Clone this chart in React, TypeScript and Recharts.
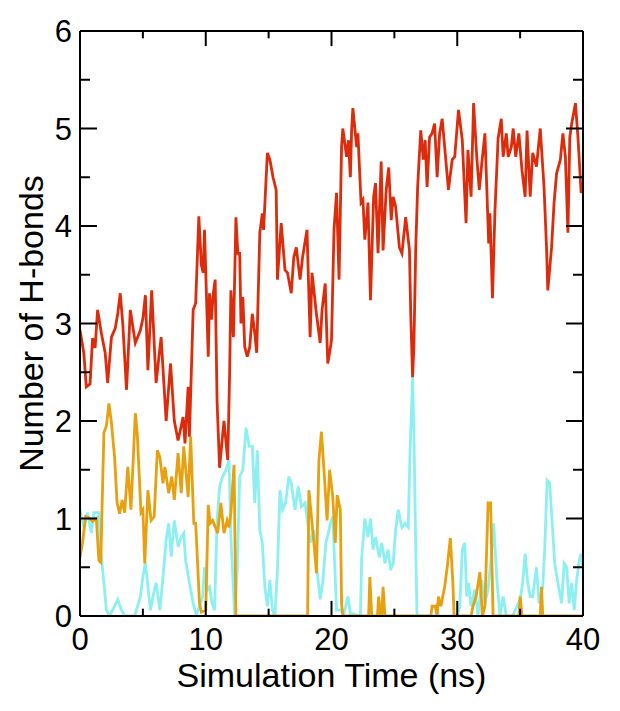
import React from 'react'
import { LineChart, Line, XAxis, YAxis, ReferenceLine } from 'recharts'

// [time (ns), number of H-bonds]
const red: [number, number][] = [
  [0, 2.93], [0.3, 2.7], [0.5, 2.35], [0.8, 2.38], [1.0, 2.85], [1.2, 2.75], [1.4, 3.14], [1.7, 2.9],
  [2.0, 2.7], [2.2, 2.39], [2.5, 2.86], [2.8, 2.95], [3.0, 3.1], [3.2, 3.31], [3.4, 3.0], [3.7, 2.32],
  [4.0, 3.14], [4.4, 2.8], [4.8, 2.93], [5.0, 3.05], [5.2, 3.29], [5.4, 2.52], [5.7, 3.34], [6.05, 2.39],
  [6.45, 2.86], [6.85, 2.0], [7.2, 2.59], [7.5, 2.0], [7.8, 1.8], [8.2, 2.04], [8.35, 1.77], [8.6, 2.35],
  [8.7, 1.84], [9.0, 3.14], [9.2, 3.21], [9.45, 4.1], [9.65, 3.6], [9.8, 3.52], [9.9, 3.96], [10.2, 2.66],
  [10.3, 3.31], [10.45, 3.04], [10.6, 3.31], [10.75, 3.45], [10.9, 2.2], [11.1, 1.52], [11.3, 1.8],
  [11.45, 2.0], [11.6, 1.8], [11.75, 1.6], [11.9, 2.5], [12.0, 3.34], [12.2, 2.86], [12.4, 4.09],
  [12.55, 3.72], [12.7, 3.72], [12.8, 3.0], [12.95, 3.27], [13.1, 2.76], [13.3, 2.66], [13.5, 2.76],
  [13.7, 3.1], [13.9, 2.9], [14.05, 2.7], [14.3, 3.93], [14.5, 4.13], [14.6, 3.96], [14.9, 4.75],
  [15.1, 4.68], [15.35, 4.5], [15.6, 4.37], [15.7, 3.45], [16.0, 4.03], [16.3, 3.55], [16.5, 3.52],
  [16.8, 3.31], [17.0, 3.68], [17.2, 3.78], [17.5, 3.45], [17.7, 3.68], [18.05, 3.96], [18.3, 2.86],
  [18.45, 3.52], [18.8, 3.1], [19.1, 2.8], [19.25, 3.14], [19.5, 3.41], [19.7, 2.59], [19.85, 2.7],
  [20.0, 2.83], [20.2, 3.96], [20.4, 4.34], [20.6, 3.45], [20.8, 4.81], [20.9, 5.0], [21.2, 4.71],
  [21.35, 4.88], [21.5, 4.5], [21.6, 4.98], [21.7, 5.21], [22.0, 4.81], [22.1, 4.95], [22.35, 4.24],
  [22.5, 4.27], [22.65, 3.86], [22.9, 4.24], [23.1, 3.24], [23.35, 4.3], [23.5, 4.44], [23.7, 3.72],
  [23.95, 4.66], [24.1, 3.75], [24.35, 4.37], [24.55, 4.6], [24.75, 4.06], [24.9, 4.3], [25.1, 4.2],
  [25.4, 3.78], [25.6, 3.72], [25.9, 4.09], [26.2, 3.75], [26.3, 3.1], [26.45, 2.45], [26.55, 2.76],
  [26.7, 3.78], [26.85, 4.4], [26.95, 4.64], [27.1, 4.98], [27.3, 4.68], [27.45, 4.88], [27.6, 4.4],
  [27.8, 4.91], [28.0, 4.95], [28.2, 5.05], [28.4, 4.5], [28.6, 4.95], [28.8, 5.1], [29.0, 4.81],
  [29.3, 4.37], [29.6, 4.68], [29.8, 4.71], [30.1, 5.19], [30.4, 4.88], [30.7, 4.03], [30.85, 4.78],
  [31.1, 4.3], [31.3, 5.26], [31.55, 4.71], [31.75, 4.37], [31.95, 4.64], [32.2, 4.95], [32.5, 3.82],
  [32.6, 4.13], [32.8, 3.26], [33.0, 4.16], [33.25, 4.9], [33.5, 5.1], [33.65, 4.71], [33.9, 4.95],
  [34.05, 4.71], [34.3, 4.81], [34.45, 5.0], [34.65, 4.71], [34.9, 4.95], [35.15, 4.57], [35.4, 4.3],
  [35.55, 4.98], [35.8, 4.3], [36.0, 4.75], [36.3, 4.61], [36.6, 5.0], [36.9, 4.4], [37.1, 3.78],
  [37.2, 3.34], [37.5, 3.78], [37.7, 4.24], [37.9, 4.54], [38.2, 4.68], [38.4, 4.95], [38.6, 4.71],
  [38.8, 3.93], [38.95, 4.91], [39.1, 5.05], [39.4, 5.26], [39.6, 4.91], [39.85, 4.34], [40, 4.4],
]

const orange: [number, number][] = [
  [0, 0.6], [0.2, 0.75], [0.45, 1.02], [0.8, 1.0], [1.0, 0.97], [1.3, 1.0], [1.5, 0.57], [1.65, 0.55],
  [1.9, 1.88], [2.1, 1.95], [2.3, 2.18], [2.5, 1.98], [2.75, 1.63], [2.95, 1.16], [3.15, 1.05],
  [3.35, 1.19], [3.55, 1.06], [3.8, 1.53], [4.05, 1.09], [4.4, 2.08], [4.55, 1.88], [4.85, 1.06],
  [5.0, 1.09], [5.15, 0.54], [5.4, 1.29], [5.65, 0.98], [5.9, 1.02], [6.15, 1.7], [6.35, 1.63],
  [6.6, 1.36], [6.75, 1.53], [7.05, 1.26], [7.3, 1.43], [7.5, 1.19], [7.8, 1.67], [8.05, 1.26],
  [8.25, 1.74], [8.6, 1.22], [8.8, 1.84], [9.05, 0.95], [9.2, 0.95], [9.5, 0.13], [9.65, 0.04],
  [10.0, 0.06], [10.2, 1.14], [10.35, 0.95], [10.55, 0.98], [10.95, 0.85], [11.2, 1.16], [11.45, 0.85],
  [11.7, 0.98], [11.85, 0.91], [12.0, 1.06], [12.25, 1.55], [12.4, 0], [18.1, 0], [18.2, 1.29],
  [18.35, 1.09], [18.65, 0.68], [18.8, 0.44], [19.0, 1.6], [19.2, 1.89], [19.4, 1.5], [19.65, 0.98],
  [19.85, 1.5], [20.1, 1.22], [20.3, 0.75], [20.45, 1.24], [20.7, 1.09], [20.8, 0.13], [20.9, 0],
  [22.95, 0], [23.05, 0.4], [23.2, 0], [23.65, 0], [23.75, 0.2], [23.9, 0], [24.0, 0], [24.1, 0.3],
  [24.25, 0], [27.9, 0], [28.0, 0.1], [28.25, 0.1], [28.4, 0], [28.5, 0.2], [28.7, 0.1], [29.0, 0.3],
  [29.2, 0.5], [29.45, 0.8], [29.65, 0.34], [29.75, 0], [31.1, 0], [31.25, 0.1], [31.5, 0.2],
  [31.8, 0.45], [32.0, 0], [32.2, 0.1], [32.45, 1.16], [32.65, 1.16], [32.85, 0], [34.9, 0], [35.0, 0.2],
  [35.15, 0], [36.6, 0], [36.7, 0.3], [36.8, 0], [40, 0],
]

const cyan: [number, number][] = [
  [0, 1.09], [0.3, 0.91], [0.6, 1.06], [0.9, 0.85], [1.1, 1.06], [1.5, 1.06], [1.65, 0.68], [1.9, 0.34],
  [2.1, 0.06], [2.35, 0], [2.75, 0.1], [3.0, 0.17], [3.3, 0.06], [3.55, 0], [4.35, 0], [4.8, 0.2],
  [5.0, 0.4], [5.2, 0.55], [5.4, 0.3], [5.6, 0.06], [5.8, 0.2], [6.05, 0.34], [6.35, 0.06], [6.6, 0.4],
  [6.85, 0.78], [7.05, 0.95], [7.25, 0.61], [7.5, 0.98], [7.8, 0.71], [8.05, 0.81], [8.25, 0.85],
  [8.4, 0.57], [8.7, 0.34], [9.0, 0.13], [9.25, 0.01], [9.5, 0.1], [9.75, 0.2], [9.9, 0.5], [10.1, 0.27],
  [10.3, 0.3], [10.5, 0.13], [10.7, 0.06], [10.9, 0.98], [11.1, 1.33], [11.35, 1.43], [11.6, 1.5],
  [11.85, 1.6], [12.0, 0.81], [12.3, 0], [12.5, 0.47], [12.7, 1.43], [12.95, 1.5], [13.2, 1.93],
  [13.45, 1.74], [13.7, 1.74], [13.9, 1.16], [14.1, 1.7], [14.3, 0.88], [14.5, 0.75], [14.7, 0.3],
  [14.9, 0.1], [15.1, 0.37], [15.3, 0.06], [15.5, 0], [15.7, 0.47], [15.9, 1.29], [16.1, 1.09],
  [16.35, 1.16], [16.6, 1.43], [16.8, 1.36], [17.1, 1.09], [17.35, 1.33], [17.6, 1.12], [17.9, 1.16],
  [18.15, 0.91], [18.3, 0.75], [18.6, 0.88], [18.85, 0.47], [19.1, 0.17], [19.3, 0.34], [19.55, 0.75],
  [19.8, 0.88], [19.9, 0.95], [20.1, 1.02], [20.4, 0.06], [20.7, 0.06], [21.0, 0.03], [21.3, 0.2],
  [21.5, 0.03], [22.3, 0], [22.4, 0.6], [22.65, 1.0], [22.9, 0.81], [23.1, 1.0], [23.3, 0.68],
  [23.5, 0.81], [23.8, 0.6], [24.0, 0.75], [24.25, 0.54], [24.5, 0.68], [24.7, 0.47], [24.9, 0.54],
  [25.1, 0.88], [25.3, 1.09], [25.6, 0.91], [25.85, 0.95], [26.1, 0.91], [26.25, 1.7], [26.45, 2.45],
  [26.55, 1.9], [26.7, 0.68], [26.8, 0], [28.3, 0], [28.4, 0.13], [28.5, 0], [30.0, 0], [30.2, 0.1],
  [30.4, 0.68], [30.6, 0.75], [30.75, 0.2], [30.9, 0.34], [31.1, 0.1], [31.4, 0.27], [31.65, 0],
  [31.95, 0.37], [32.2, 0.13], [32.45, 0.27], [32.75, 0.68], [32.9, 0.95], [33.15, 0.37], [33.4, 0],
  [33.65, 0.2], [33.9, 0], [34.4, 0], [35.0, 0.17], [35.2, 0.34], [35.4, 0.64], [35.6, 0.34],
  [35.8, 0.2], [36.0, 0.2], [36.3, 0.5], [36.5, 0.13], [36.8, 0.3], [36.95, 0.68], [37.15, 1.39],
  [37.35, 1.36], [37.6, 0.85], [37.75, 0.54], [38.0, 0.34], [38.3, 0.13], [38.5, 0.54], [38.7, 0.5],
  [38.9, 0.13], [39.1, 0.34], [39.3, 0.06], [39.5, 0.37], [39.7, 0.57], [39.85, 0.64], [40, 0.5],
]

const xMajor = [0, 10, 20, 30, 40]
const xMinor = [5, 15, 25, 35]
const yMajor = [0, 1, 2, 3, 4, 5, 6]
const yMinor = [0.5, 1.5, 2.5, 3.5, 4.5, 5.5]

const toPts = (a: [number, number][]) => a.map(([t, v]) => ({ t, v }))

const font = 'Liberation Sans, Arial, Helvetica, sans-serif'
const tickStyle = { fontSize: 31, fill: '#000', fontFamily: font }
const lineStroke = { stroke: '#000', strokeWidth: 2 }
// inner tick marks only, no labels
const noLabel = () => <g />

// x tick mark lengths, in y units (plot is ~97.5 px per H-bond)
const majorLen = 0.155
const minorLen = 0.075

export default function App() {
  const xTickMarks = [
    ...xMajor.map((t) => ({ t, len: majorLen })),
    ...xMinor.map((t) => ({ t, len: minorLen })),
  ]
  return (
    <div style={{ position: 'absolute', left: 0, top: 0 }}>
      <LineChart width={620} height={711} margin={{ top: 31, right: 37, bottom: 0, left: 0 }}>
        <XAxis
          xAxisId="b"
          type="number"
          dataKey="t"
          domain={[0, 40]}
          ticks={xMajor}
          interval={0}
          allowDataOverflow
          height={95}
          tickLine={false}
          tickSize={6}
          tickMargin={6}
          axisLine={lineStroke}
          tick={tickStyle}
          label={{ value: 'Simulation Time (ns)', position: 'insideBottom', offset: 24, fontSize: 34, fill: '#000', fontFamily: font }}
        />
        <XAxis xAxisId="t" type="number" domain={[0, 40]} allowDataOverflow orientation="top" mirror tick={noLabel} tickLine={false} axisLine={lineStroke} height={1} />

        <YAxis
          yAxisId="l"
          type="number"
          domain={[0, 6]}
          ticks={yMajor}
          allowDataOverflow
          width={80}
          tickLine={false}
          tickSize={6}
          tickMargin={2}
          axisLine={lineStroke}
          tick={tickStyle}
          label={{ value: 'Number of H-bonds', angle: -90, position: 'insideLeft', offset: 31, textAnchor: 'middle', fontSize: 34, fill: '#000', fontFamily: font }}
        />
        <YAxis yAxisId="lM" type="number" domain={[0, 6]} allowDataOverflow ticks={yMajor} interval={0} orientation="left" mirror tick={noLabel} tickSize={17} tickLine={lineStroke} axisLine={false} width={1} />
        <YAxis yAxisId="lm" type="number" domain={[0, 6]} allowDataOverflow ticks={yMinor} interval={0} orientation="left" mirror tick={noLabel} tickSize={9} tickLine={lineStroke} axisLine={false} width={1} />
        <YAxis yAxisId="rM" type="number" domain={[0, 6]} allowDataOverflow ticks={yMajor} interval={0} orientation="right" mirror tick={noLabel} tickSize={17} tickLine={lineStroke} axisLine={lineStroke} width={1} />
        <YAxis yAxisId="rm" type="number" domain={[0, 6]} allowDataOverflow ticks={yMinor} interval={0} orientation="right" mirror tick={noLabel} tickSize={9} tickLine={lineStroke} axisLine={false} width={1} />

        <Line xAxisId="b" yAxisId="l" data={toPts(cyan)} dataKey="v" type="linear" stroke="#8cf0f0" strokeWidth={2.8} dot={false} isAnimationActive={false} />
        <Line xAxisId="b" yAxisId="l" data={toPts(orange)} dataKey="v" type="linear" stroke="#e6a010" strokeWidth={2.8} dot={false} isAnimationActive={false} />
        <Line xAxisId="b" yAxisId="l" data={toPts(red)} dataKey="v" type="linear" stroke="#dd2c0c" strokeWidth={2.8} dot={false} isAnimationActive={false} />

        {/* inward tick marks on the bottom and top frame edges */}
        {xTickMarks.map(({ t, len }) => (
          <ReferenceLine
            key={`b${t}`}
            xAxisId="b"
            yAxisId="l"
            segment={[{ x: t, y: 0 }, { x: t, y: len }]}
            stroke="#000"
            strokeWidth={2}
            ifOverflow="visible"
          />
        ))}
        {xTickMarks.map(({ t, len }) => (
          <ReferenceLine
            key={`t${t}`}
            xAxisId="b"
            yAxisId="l"
            segment={[{ x: t, y: 6 }, { x: t, y: 6 - len }]}
            stroke="#000"
            strokeWidth={2}
            ifOverflow="visible"
          />
        ))}
      </LineChart>
    </div>
  )
}
